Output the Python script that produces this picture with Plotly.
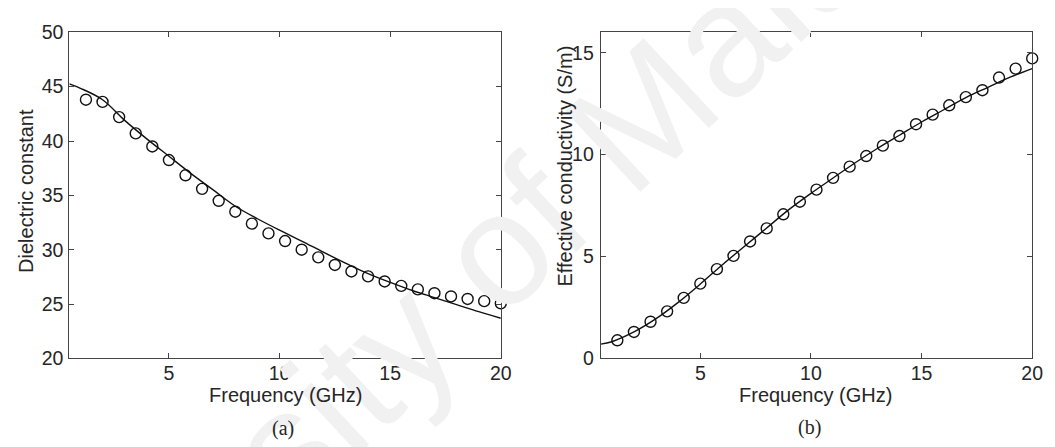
import plotly.graph_objects as go

# ---------------- data ----------------
freq_meas = [1.25, 2.0, 2.75, 3.5, 4.25, 5.0, 5.75, 6.5, 7.25, 8.0, 8.75, 9.5, 10.25,
             11.0, 11.75, 12.5, 13.25, 14.0, 14.75, 15.5, 16.25, 17.0, 17.75, 18.5, 19.25, 20.0]
eps_meas = [43.8, 43.6, 42.2, 40.7, 39.5, 38.25, 36.85, 35.6, 34.5, 33.5, 32.4, 31.5, 30.8,
            30.0, 29.3, 28.6, 28.0, 27.55, 27.08, 26.67, 26.35, 26.0, 25.7, 25.47, 25.27, 25.07]
sigma_meas = [0.89, 1.30, 1.80, 2.31, 2.97, 3.67, 4.38, 5.03, 5.74, 6.38, 7.07, 7.69, 8.28,
              8.86, 9.41, 9.93, 10.44, 10.91, 11.49, 11.96, 12.42, 12.82, 13.16, 13.78, 14.22, 14.72]

freq_fit = [0.5, 1, 2, 3, 4, 5, 6, 7, 8, 9, 10, 11, 12, 13, 14, 15, 16, 17, 18, 19, 20]
eps_fit = [45.25, 44.85, 43.8, 41.9, 40.2, 38.6, 37.0, 35.5, 34.0, 32.85, 31.8, 30.8, 29.75,
           28.75, 27.8, 27.0, 26.25, 25.6, 24.95, 24.3, 23.7]
sigma_fit = [0.70, 0.82, 1.3, 1.95, 2.75, 3.65, 4.6, 5.5, 6.4, 7.3, 8.1, 8.85, 9.6, 10.3,
             10.95, 11.6, 12.2, 12.8, 13.3, 13.8, 14.22]

x_ticks = [5, 10, 15, 20]
eps_ticks = [20, 25, 30, 35, 40, 45, 50]
sigma_ticks = [0, 5, 10, 15]

W, H = 1055, 447
FONT = "Liberation Sans, Arial, sans-serif"
TXT = "#262626"
AX = "#444444"


def px(x):
    return x / W


def py(y):
    return 1 - y / H


def note(text, x, y, font, angle=0):
    fig.add_annotation(text=text, x=px(x), y=py(y), xref="paper", yref="paper",
                       xanchor="center", yanchor="middle", showarrow=False,
                       textangle=angle, font=font)


fig = go.Figure()

# watermark
note("University of Malaya", 440, 295,
     dict(family=FONT, size=160, color="#f1f1f1"), angle=-43)

line_style = dict(color="#111111", width=1.4)
marker_style = dict(symbol="circle-open", size=11, color="#111111", line=dict(width=1.4))

fig.add_trace(go.Scatter(x=freq_fit, y=eps_fit, mode="lines", line=line_style,
                         line_shape="spline", xaxis="x", yaxis="y", showlegend=False))
fig.add_trace(go.Scatter(x=freq_meas, y=eps_meas, mode="markers", marker=marker_style,
                         xaxis="x", yaxis="y", showlegend=False, cliponaxis=False))
fig.add_trace(go.Scatter(x=freq_fit, y=sigma_fit, mode="lines", line=line_style,
                         line_shape="spline", xaxis="x2", yaxis="y2", showlegend=False))
fig.add_trace(go.Scatter(x=freq_meas, y=sigma_meas, mode="markers", marker=marker_style,
                         xaxis="x2", yaxis="y2", showlegend=False, cliponaxis=False))

axis_common = dict(showgrid=False, zeroline=False, showline=True, linecolor=AX, linewidth=1.2,
                   mirror="ticks", ticks="inside", ticklen=5, tickcolor=AX, tickwidth=1,
                   tickfont=dict(family=FONT, size=19.5, color=TXT))

ydom = [py(357), py(14)]
fig.update_layout(
    width=W, height=H,
    margin=dict(l=0, r=0, t=0, b=0),
    paper_bgcolor="white", plot_bgcolor="white",
    xaxis=dict(domain=[px(62), px(498)], range=[0.5, 20], tickvals=x_ticks,
               ticklabelstandoff=-3, anchor="y", **axis_common),
    yaxis=dict(domain=ydom, range=[20, 50], tickvals=eps_ticks, anchor="x",
               ticklabelstandoff=1, **axis_common),
    xaxis2=dict(domain=[px(599), px(1035)], range=[0.5, 20], tickvals=x_ticks,
                ticklabelstandoff=-3, anchor="y2", **axis_common),
    yaxis2=dict(domain=ydom, range=[0, 16], tickvals=sigma_ticks, anchor="x2",
                ticklabelstandoff=2, **axis_common),
)

title_font = dict(family=FONT, size=20, color=TXT)
serif_font = dict(family="Liberation Serif, Times New Roman, serif", size=20, color=TXT)
# axis titles
note("Frequency (GHz)", 280, 395, title_font)
note("Frequency (GHz)", 816, 395, title_font)
note("Dielectric constant", 18, 181, title_font, angle=-90)
note("Effective conductivity (S/m)", 563, 155, title_font, angle=-90)
# panel labels
note("(a)", 278, 431, serif_font)
note("(b)", 810, 430, serif_font)

fig.write_html("out.html")
